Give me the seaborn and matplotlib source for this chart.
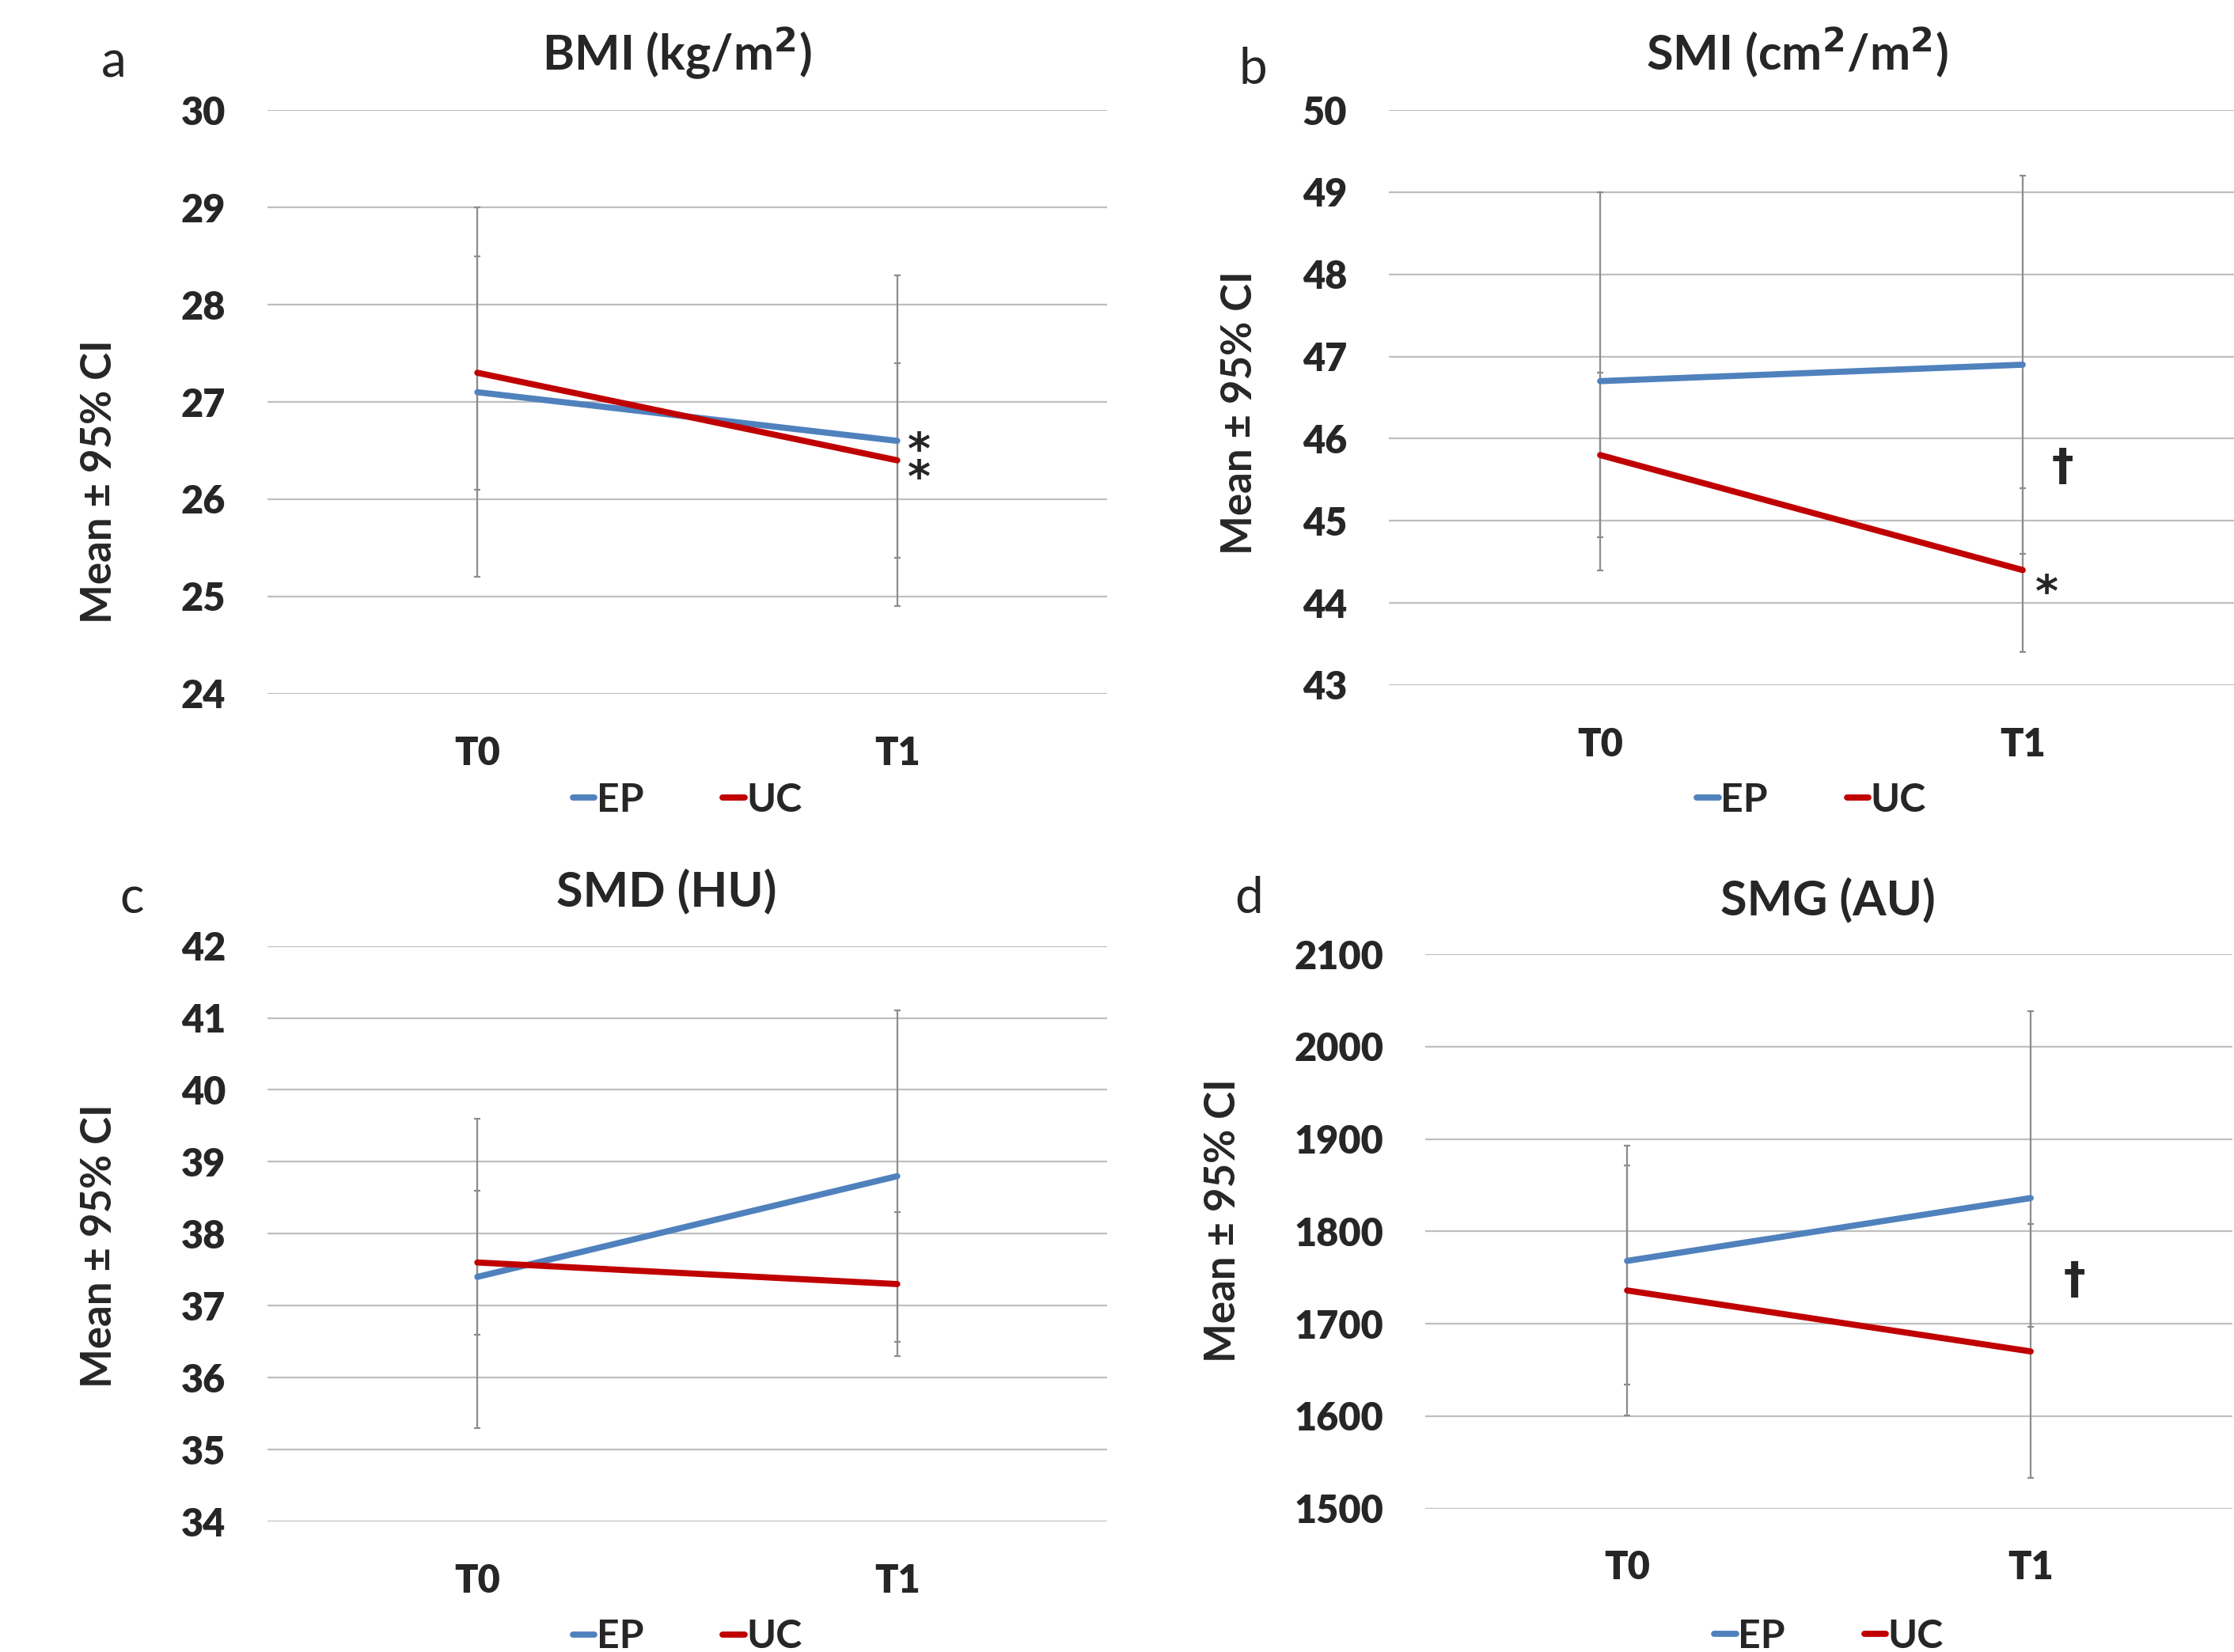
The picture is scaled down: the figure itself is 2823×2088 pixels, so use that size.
import numpy as np
import pandas as pd
import matplotlib
matplotlib.use("Agg")
import matplotlib.pyplot as plt
import seaborn as sns

# === DATA ===
times = ["T0", "T1"]
groups = ["EP", "UC"]

# BMI (kg/m2)
bmi_ep = [27.1, 26.6]
bmi_ep_lo = [25.2, 24.9]
bmi_ep_hi = [29.0, 28.3]
bmi_uc = [27.3, 26.4]
bmi_uc_lo = [26.1, 25.4]
bmi_uc_hi = [28.5, 27.4]

# SMI (cm2/m2)
smi_ep = [46.7, 46.9]
smi_ep_lo = [44.4, 44.6]
smi_ep_hi = [49.0, 49.2]
smi_uc = [45.8, 44.4]
smi_uc_lo = [44.8, 43.4]
smi_uc_hi = [46.8, 45.4]

# SMD (HU)
smd_ep = [37.4, 38.8]
smd_ep_lo = [35.3, 36.5]
smd_ep_hi = [39.6, 41.1]
smd_uc = [37.6, 37.3]
smd_uc_lo = [36.6, 36.3]
smd_uc_hi = [38.6, 38.3]

# SMG (AU)
smg_ep = [1768, 1836]
smg_ep_lo = [1634, 1697]
smg_ep_hi = [1893, 2038]
smg_uc = [1736, 1670]
smg_uc_lo = [1601, 1533]
smg_uc_hi = [1871, 1808]

# === STYLE ===
sns.set_style("white")
plt.rcParams["font.family"] = ["Lato", "DejaVu Sans"]

BLUE = "#4F81BD"
RED = "#C00000"
GRID = "#BFBFBF"
ERR = "#8C8C8C"

panels = [
    dict(label="a", title="BMI (kg/m$^{\\mathbf{2}}$)", title_x=0.488,
         ep=(bmi_ep, bmi_ep_lo, bmi_ep_hi), uc=(bmi_uc, bmi_uc_lo, bmi_uc_hi),
         ylim=(24, 30), step=1, rect=[0.1197, 0.5800, 0.3759, 0.3534],
         ylab_xy=(0.0446, 0.7086), lab_xy=(0.051, 0.962), leg_y=-0.182,
         marks=[("*\n*", "mid", 10, -7)]),
    dict(label="b", title="SMI (cm$^{\\mathbf{2}}$/m$^{\\mathbf{2}}$)", title_x=0.483,
         ep=(smi_ep, smi_ep_lo, smi_ep_hi), uc=(smi_uc, smi_uc_lo, smi_uc_hi),
         ylim=(43, 50), step=1, rect=[0.6217, 0.5853, 0.3783, 0.3481],
         ylab_xy=(0.5548, 0.750), lab_xy=(0.561, 0.958), leg_y=-0.2,
         marks=[("†", "mid", 18, 0), ("*", "UC", 11, -11)]),
    dict(label="c", title="SMD (HU)", title_x=0.475,
         ep=(smd_ep, smd_ep_lo, smd_ep_hi), uc=(smd_uc, smd_uc_lo, smd_uc_hi),
         ylim=(34, 42), step=1, rect=[0.1197, 0.0790, 0.3759, 0.3484],
         ylab_xy=(0.0446, 0.2457), lab_xy=(0.059, 0.456), leg_y=-0.2,
         marks=[]),
    dict(label="d", title="SMG (AU)", title_x=0.499,
         ep=(smg_ep, smg_ep_lo, smg_ep_hi), uc=(smg_uc, smg_uc_lo, smg_uc_hi),
         ylim=(1500, 2100), step=100, rect=[0.6380, 0.0869, 0.3613, 0.3355],
         ylab_xy=(0.5473, 0.2612), lab_xy=(0.559, 0.456), leg_y=-0.231,
         marks=[("†", "mid", 20, -3)]),
]

fig = plt.figure(figsize=(14.115, 10.44), dpi=200)

for p in panels:
    ax = fig.add_axes(p["rect"])

    rows = []
    for g, (m, lo, hi) in zip(groups, [p["ep"], p["uc"]]):
        for t, mv in zip(times, m):
            rows.append({"time": t, "group": g, "value": mv})
    df = pd.DataFrame(rows)

    # CI bars behind the lines
    for (m, lo, hi) in [p["ep"], p["uc"]]:
        m = np.array(m, dtype=float)
        yerr = np.vstack([m - np.array(lo), np.array(hi) - m])
        ax.errorbar([0, 1], m, yerr=yerr, fmt="none", ecolor=ERR,
                    elinewidth=0.8, capsize=1.6, capthick=0.8, zorder=2)

    sns.lineplot(data=df, x="time", y="value", hue="group",
                 palette={"EP": BLUE, "UC": RED}, linewidth=2.8,
                 solid_capstyle="round", ax=ax, zorder=3, legend=True)

    ax.set_xlim(-0.5, 1.5)
    lo_y, hi_y = p["ylim"]
    ax.set_ylim(lo_y, hi_y)
    ax.set_yticks(np.arange(lo_y, hi_y + p["step"] / 2, p["step"]))
    ax.yaxis.grid(True, color=GRID, linewidth=0.8)
    ax.xaxis.grid(False)
    for s in ax.spines.values():
        s.set_visible(False)
    ax.tick_params(axis="both", length=0, labelsize=17.5)
    ax.tick_params(axis="y", pad=19)
    ax.tick_params(axis="x", pad=19)
    for lbl in ax.get_xticklabels() + ax.get_yticklabels():
        lbl.set_fontweight("heavy")
    ax.set_xlabel("")
    ax.set_ylabel("")

    ax.set_title(p["title"], x=p["title_x"], fontsize=22, fontweight="bold", pad=18)
    fig.text(p["ylab_xy"][0], p["ylab_xy"][1], "Mean ± 95% CI",
             rotation=90, fontsize=19, fontweight="bold",
             ha="center", va="center")
    fig.text(p["lab_xy"][0], p["lab_xy"][1], p["label"], fontsize=23,
             ha="center", va="center")

    handles, labels = ax.get_legend_handles_labels()
    ax.legend(handles, labels, loc="center", bbox_to_anchor=(0.5, p["leg_y"]),
              ncol=2, frameon=False, handlelength=0.55, handletextpad=0.05,
              columnspacing=2.0, prop={"size": 18, "weight": "bold"})

    ep_m = p["ep"][0]
    uc_m = p["uc"][0]
    for txt, where, dx, dy in p["marks"]:
        if where == "EP":
            y = ep_m[1]
        elif where == "UC":
            y = uc_m[1]
        else:
            y = (ep_m[1] + uc_m[1]) / 2
        ax.annotate(txt, xy=(1, y), xytext=(dx, dy), textcoords="offset points",
                    ha="center", va="center", fontsize=20, fontweight="bold",
                    linespacing=0.55, family=["DejaVu Sans"])

fig.savefig("out.png", dpi=200)
